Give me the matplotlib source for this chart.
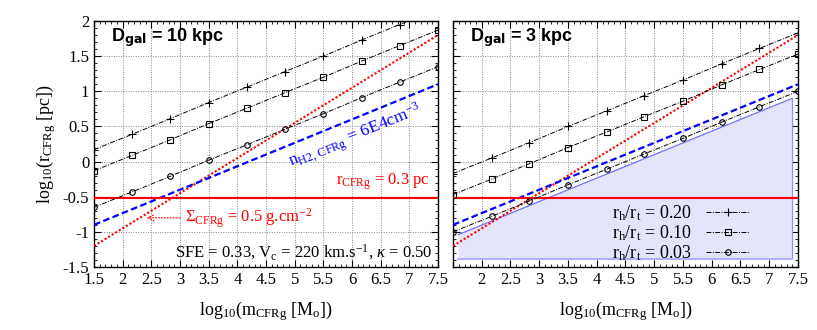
import numpy as np
import matplotlib
matplotlib.use("Agg")
import matplotlib.pyplot as plt

plt.rcParams['font.family'] = ['Liberation Serif', 'DejaVu Serif']
plt.rcParams['mathtext.fontset'] = 'custom'
plt.rcParams['mathtext.rm'] = 'Liberation Serif'
plt.rcParams['mathtext.it'] = 'Liberation Serif:italic'
plt.rcParams['font.size'] = 11

# marker positions, log10(m)
m_marks = [1.5, 2.17, 2.83, 3.5, 4.17, 4.83, 5.5, 6.17, 6.83, 7.5]

# D_gal = 10 kpc
left_020 = [0.17, 0.39, 0.61, 0.84, 1.06, 1.28, 1.50, 1.73, 1.95, 2.17]
left_010 = [-0.13, 0.09, 0.31, 0.54, 0.76, 0.98, 1.20, 1.43, 1.65, 1.87]
left_003 = [-0.65, -0.43, -0.21, 0.02, 0.24, 0.46, 0.68, 0.91, 1.13, 1.35]

# D_gal = 3 kpc
right_020 = [-0.17, 0.05, 0.27, 0.50, 0.72, 0.94, 1.16, 1.39, 1.61, 1.83]
right_010 = [-0.47, -0.25, -0.03, 0.20, 0.42, 0.64, 0.86, 1.09, 1.31, 1.53]
right_003 = [-1.00, -0.78, -0.56, -0.33, -0.11, 0.11, 0.33, 0.56, 0.78, 1.00]

# constraint lines
m_ends = [1.5, 7.5]
sigma_line = [-1.2, 1.8]      # Sigma = 0.5 g cm-2
nh2_line = [-0.9, 1.1]        # n_H2 = 6E4 cm-3
r_const = -0.52               # r = 0.3 pc

# shaded region in right panel
shade_x = [1.59, 7.4]
shade_top = [-1.04, 0.90]
shade_bottom = -1.39

ratios = ['0.20', '0.10', '0.03']
markers = ['+', 's', 'o']
msizes = [6, 4, 4]
dashdot = (0, (5, 1.5, 1, 1.5))

fig = plt.figure(figsize=(8.17, 3.30), dpi=100)
ax1 = fig.add_axes([94 / 817, 63 / 330, 344 / 817, 246 / 330])
ax2 = fig.add_axes([453 / 817, 63 / 330, 345 / 817, 246 / 330])


def draw_common(ax, series):
    lines = []
    for ys, mk, ms, r in zip(series, markers, msizes, ratios):
        ln, = ax.plot(m_marks, ys, color='black', lw=0.7, ls=dashdot,
                      marker=mk, ms=ms, mfc='none', mec='black', mew=0.8,
                      label=r'r$_{\rm h}$/r$_{\rm t}$ = ' + r, zorder=4)
        lines.append(ln)
    ax.plot(m_ends, sigma_line, color='red', ls=(0, (1, 1)), lw=1.5, zorder=3)
    ax.plot(m_ends, nh2_line, color='blue', ls=(0, (3, 1.5)), lw=1.6, zorder=3)
    ax.axhline(r_const, color='red', lw=1.5, zorder=3)
    ax.set_xlim(1.5, 7.5)
    ax.set_ylim(-1.5, 2)
    ax.set_xticks(np.arange(1.5, 7.51, 0.5))
    ax.set_yticks(np.arange(-1.5, 2.01, 0.5))
    ax.set_xticks(np.arange(1.5, 7.51, 0.1), minor=True)
    ax.set_yticks(np.arange(-1.5, 2.01, 0.1), minor=True)
    ax.tick_params(which='both', direction='in', top=True, right=True,
                   labelsize=12)
    ax.tick_params(which='major', length=5, width=0.8)
    ax.tick_params(which='minor', length=2.5, width=0.6)
    ax.grid(True, which='major', ls=(0, (1, 1.5)), color='#888888', lw=0.7)
    ax.set_axisbelow(True)
    for s in ax.spines.values():
        s.set_linewidth(1.0)
    ax.set_xlabel(r'log$_{10}$(m$_{\rm CFRg}$ [M$_{\rm o}$])', fontsize=13,
                  labelpad=8)
    return lines


draw_common(ax1, [left_020, left_010, left_003])
ax1.set_xticklabels(['1.5', '2', '2.5', '3', '3.5', '4', '4.5', '5', '5.5',
                     '6', '6.5', '7', '7.5'])
ax1.set_yticklabels(['-1.5', '-1', '-0.5', '0', '0.5', '1', '1.5', '2'])
ax1.set_ylabel(r'log$_{10}$(r$_{\rm CFRg}$ [pc])', fontsize=13, labelpad=3)

ax1.text(1.8, 1.77, r'D$_{\bf gal}$ = 10 kpc', family='Liberation Sans',
         fontweight='bold', fontsize=13, va='center', ha='left')
ax1.text(6.05, 0.36, r'n$_{\rm H2,\,CFRg}$ = 6E4cm$^{-3}$', color='blue',
         fontsize=12.5, rotation=22, rotation_mode='anchor', ha='center',
         va='center')
ax1.text(7.36, -0.28, r'r$_{\rm CFRg}$ = 0.3 pc', color='red', fontsize=12,
         ha='right', va='center')
ax1.text(3.08, -0.80, r'$\Sigma_{\rm CFRg}$ = 0.5 g.cm$^{-2}$', color='red',
         fontsize=12, ha='left', va='center')
ax1.annotate('', xy=(2.37, -0.80), xytext=(3.05, -0.80),
             arrowprops=dict(arrowstyle='->', color='red', lw=0.8, ls=':'))
ax1.text(7.4, -1.29, r'SFE = 0.33, V$_{\rm c}$ = 220 km.s$^{-1}$, $\kappa$ = 0.50',
         fontsize=12, ha='right', va='center')

ax2.fill_between(shade_x, shade_top, shade_bottom, color='#e4e4fa', lw=0,
                 zorder=1)
ax2.plot(shade_x, shade_top, color='#6f6fff', lw=0.9, zorder=2)
ax2.plot([shade_x[1], shade_x[1]], [shade_bottom, shade_top[1]],
         color='#8f8fff', lw=0.9, zorder=2)
ax2.plot(shade_x, [shade_bottom, shade_bottom], color='#b0b0ff', lw=1.5,
         zorder=2)
lines = draw_common(ax2, [right_020, right_010, right_003])
ax2.set_xticklabels(['', '2', '2.5', '3', '3.5', '4', '4.5', '5', '5.5',
                     '6', '6.5', '7', '7.5'])
ax2.set_yticklabels([])
ax2.text(1.8, 1.77, r'D$_{\bf gal}$ = 3 kpc', family='Liberation Sans',
         fontweight='bold', fontsize=13, va='center', ha='left')
leg = ax2.legend(handles=lines, loc='lower right', bbox_to_anchor=(0.885, -0.02),
                 frameon=False, markerfirst=False, fontsize=13,
                 handlelength=2.4, handletextpad=0.8, labelspacing=0.0,
                 borderpad=0.0)

fig.savefig('out.png', dpi=100)
